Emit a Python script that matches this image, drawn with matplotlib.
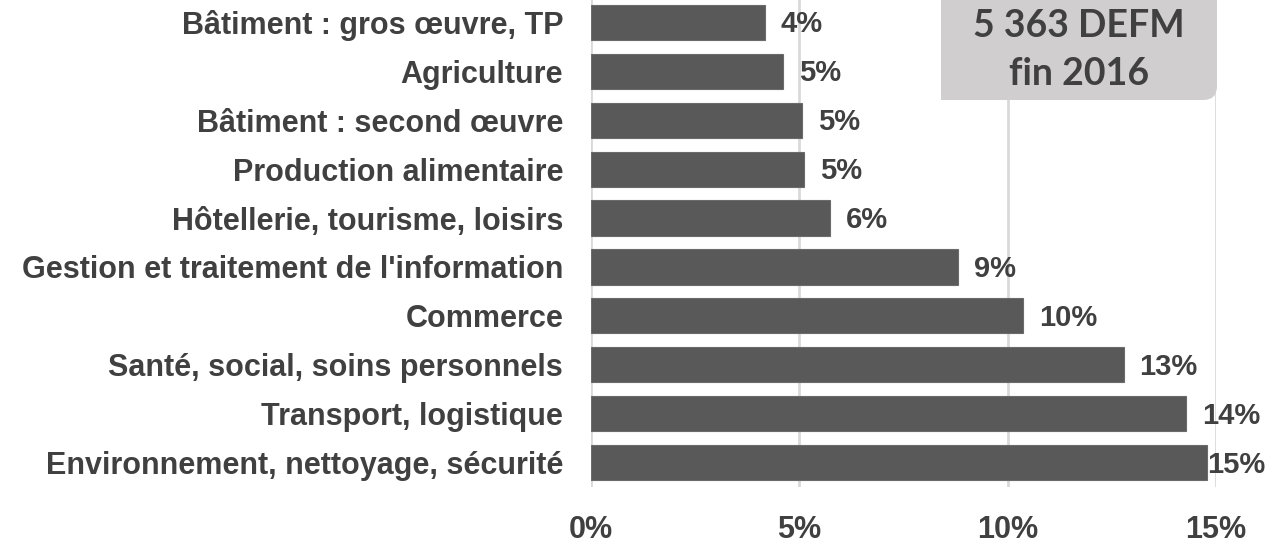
import matplotlib
matplotlib.use("Agg")
import matplotlib.pyplot as plt
from matplotlib.patches import PathPatch
from matplotlib.path import Path

categories = [
    "Bâtiment : gros œuvre, TP",
    "Agriculture",
    "Bâtiment : second œuvre",
    "Production alimentaire",
    "Hôtellerie, tourisme, loisirs",
    "Gestion et traitement de l'information",
    "Commerce",
    "Santé, social, soins personnels",
    "Transport, logistique",
    "Environnement, nettoyage, sécurité",
]
values = [4.17, 4.61, 5.07, 5.11, 5.74, 8.81, 10.37, 12.78, 14.29, 14.78]
value_labels = ["4%", "5%", "5%", "5%", "6%", "9%", "10%", "13%", "14%", "15%"]
xticks = [0, 5, 10, 15]
xtick_labels = ["0%", "5%", "10%", "15%"]
box_text = "5 363 DEFM\nfin 2016"

label_font = ["Liberation Sans", "DejaVu Sans"]

W, H = 1269, 543
fig = plt.figure(figsize=(W / 100, H / 100), dpi=100)
ax = fig.add_axes([591 / W, 1 - 487 / H, (1216 - 591) / W, 489 / H])

text_col = "#404040"
fsz = 22

y = list(range(len(categories)))
ax.barh(y, values, height=0.72, color="#595959", edgecolor="#6b6b6b", linewidth=0.8, zorder=3)
ax.set_xlim(0, 15)
ax.set_ylim(len(categories) - 0.5, -0.5)
ax.set_xticks(xticks)
ax.set_xticklabels(xtick_labels, fontsize=fsz, fontweight="bold", color=text_col, family=label_font)
ax.set_yticks(y)
ax.set_yticklabels(categories, fontsize=fsz, fontweight="bold", color=text_col, family=label_font)
ax.tick_params(axis="both", length=0)
ax.tick_params(axis="y", pad=20)
ax.tick_params(axis="x", pad=20)
for s in ax.spines.values():
    s.set_visible(False)
ax.grid(axis="x", color="#d9d9d9", linewidth=2, zorder=0)
ax.set_axisbelow(True)

fig.canvas.draw()
renderer = fig.canvas.get_renderer()
for yi, v, lab in zip(y, values, value_labels):
    px, py = ax.transData.transform((v, yi))
    t = ax.text(0, 0, lab, fontsize=fsz - 1, fontweight="bold", color=text_col, family=label_font,
                va="center", ha="left", transform=None)
    w = t.get_window_extent(renderer).width
    xpos = min(px + 16, 1265 - w)
    t.set_position((xpos, py - 2))

# annotation box with rounded bottom-right corner
bx0, bx1 = 941 / W, 1217 / W
by0, by1 = 1 - 100 / H, 1.0
r = 14
rx, ry = r / W, r / H
verts = [(bx0, by1), (bx1, by1), (bx1, by0 + ry), (bx1, by0), (bx1 - rx, by0), (bx0, by0), (bx0, by1)]
codes = [Path.MOVETO, Path.LINETO, Path.LINETO, Path.CURVE3, Path.CURVE3, Path.LINETO, Path.CLOSEPOLY]
patch = PathPatch(Path(verts, codes), facecolor="#d0cece", edgecolor="none", transform=fig.transFigure, zorder=5)
fig.add_artist(patch)
fig.text((bx0 + bx1) / 2, 1 - 50 / H, box_text, ha="center", va="center",
         fontsize=27, fontweight="bold", color=text_col, family=["Lato", "DejaVu Sans"],
         linespacing=1.5, zorder=6)

fig.savefig("out.png", dpi=100)
